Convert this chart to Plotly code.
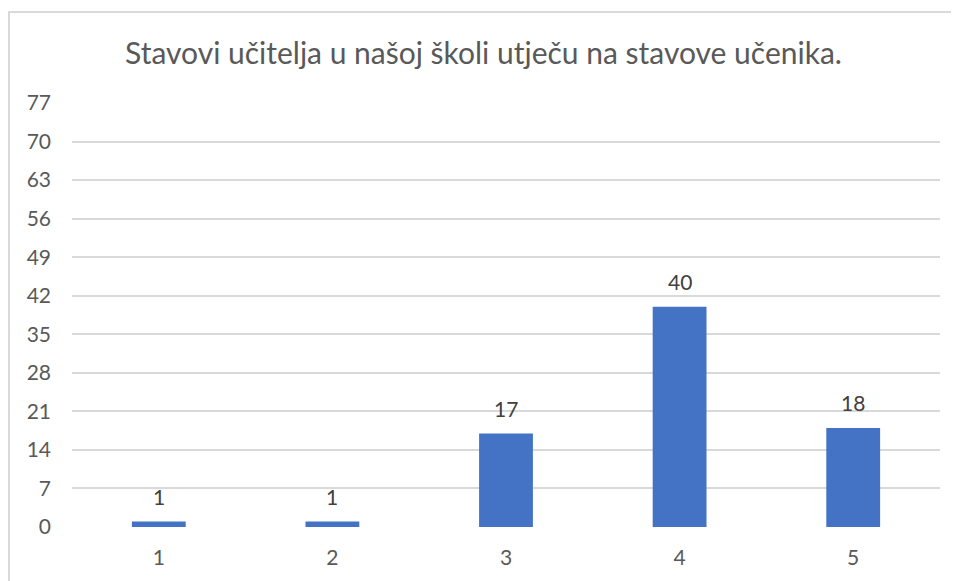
import plotly.graph_objects as go

categories = ["1", "2", "3", "4", "5"]
values = [1, 1, 17, 40, 18]
y_ticks = [0, 7, 14, 21, 28, 35, 42, 49, 56, 63, 70, 77]
title_text = "Stavovi učitelja u našoj školi utječu na stavove učenika."

# page body has an 8px margin in the browser
W, H = 951, 573
L, R, T, B = 64, 19, 95, 54
pw, ph = W - L - R, H - T - B

fig = go.Figure(go.Bar(
    x=categories, y=values,
    marker=dict(color="#4472C4", line=dict(width=0)),
    hoverinfo="x+y",
))

# data labels (category axis: annotation x is the category index)
for i, v in enumerate(values):
    fig.add_annotation(x=i, y=v, text=str(v), showarrow=False,
                       yanchor="middle", yshift=25,
                       font=dict(size=21, color="#404040"))

fig.update_layout(
    width=W, height=H,
    margin=dict(l=L, r=R, t=T, b=B),
    paper_bgcolor="white", plot_bgcolor="white",
    font=dict(family="Lato, 'Open Sans', sans-serif", color="#595959", size=21),
    title=dict(text=title_text, x=0.5, xanchor="center", y=1 - 45 / H, yanchor="middle",
               font=dict(size=30, color="#595959")),
    bargap=0.69,
    showlegend=False,
    xaxis=dict(type="category", range=[-0.5, len(categories) - 0.5],
               showgrid=False, showline=False, ticks="", ticklabelstandoff=16,
               tickfont=dict(size=21, color="#595959")),
    yaxis=dict(range=[0, 77], tickvals=y_ticks, showgrid=True, gridcolor="#D9D9D9",
               gridwidth=1.5, zeroline=False, showline=False, ticks="",
               ticklabelstandoff=20, tickfont=dict(size=21, color="#595959")),
    shapes=[dict(type="rect", xref="paper", yref="paper",
                 x0=(1 - L) / pw, x1=(W + 5 - L) / pw,
                 y0=-(B + 5) / ph, y1=(ph + T - 4) / ph,
                 line=dict(color="#D9D9D9", width=2), fillcolor="rgba(0,0,0,0)")],
)

fig.write_html("out.html")
